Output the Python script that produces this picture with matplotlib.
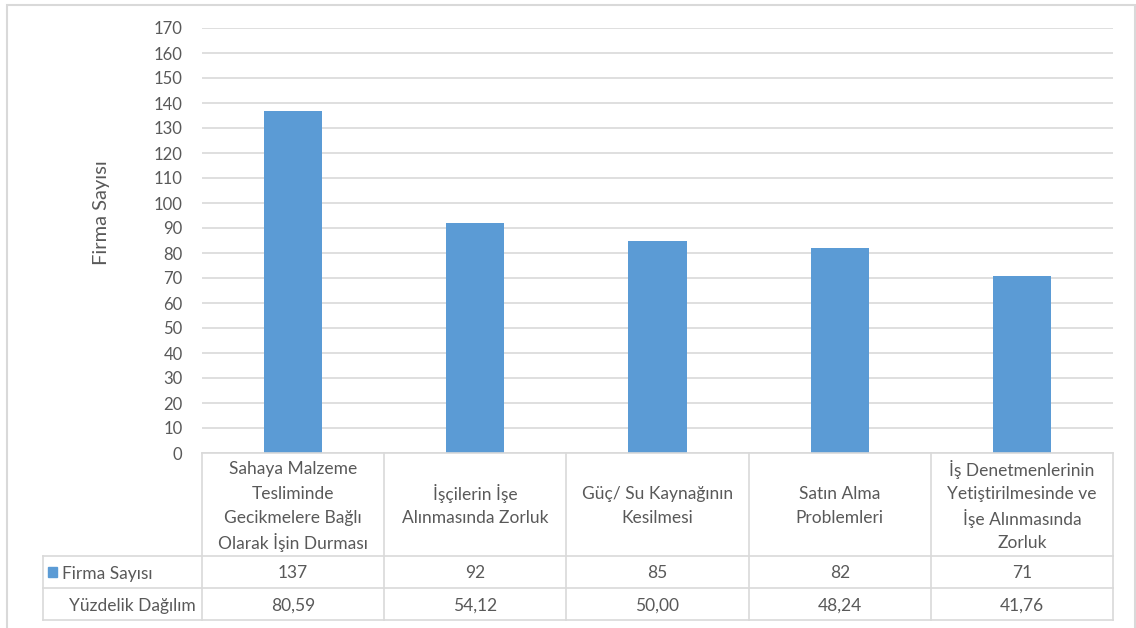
import matplotlib
matplotlib.use("Agg")
import matplotlib.pyplot as plt
from matplotlib.lines import Line2D
from matplotlib.patches import Rectangle
import matplotlib.transforms as mtransforms

categories = [
    "Sahaya Malzeme\nTesliminde\nGecikmelere Bağlı\nOlarak İşin Durması",
    "İşçilerin İşe\nAlınmasında Zorluk",
    "Güç/ Su Kaynağının\nKesilmesi",
    "Satın Alma\nProblemleri",
    "İş Denetmenlerinin\nYetiştirilmesinde ve\nİşe Alınmasında\nZorluk",
]
firma_sayisi = [137, 92, 85, 82, 71]
yuzdelik = ["80,59", "54,12", "50,00", "48,24", "41,76"]
yticks = list(range(0, 171, 10))

BAR = "#5B9BD5"
GRID = "#D9D9D9"
TXT = "#595959"
FONT = ["Lato", "DejaVu Sans"]
FS = 12.5

W, H = 1136, 628
fig = plt.figure(figsize=(W / 100, H / 100), dpi=100)
plt.rcParams["font.family"] = FONT


def fx(px):
    return px / W


def fy(py):
    return 1 - py / H


# chart area border
fig.add_artist(Rectangle((fx(7), fy(640)), fx(1135) - fx(7), fy(5) - fy(640),
                         transform=fig.transFigure, fill=False,
                         edgecolor=GRID, linewidth=1.5))

ax = fig.add_axes([fx(202), fy(453), fx(1113) - fx(202), fy(28) - fy(453)])
n = len(categories)
x = list(range(n))
ax.bar(x, firma_sayisi, width=0.32, color=BAR, zorder=3)
ax.set_xlim(-0.5, n - 0.5)
ax.set_ylim(0, 170)
ax.set_yticks(yticks)
ax.set_yticklabels([str(t) for t in yticks], color=TXT, fontsize=12)
ax.tick_params(axis="y", length=0, pad=14)
ax.set_xticks([])
ax.grid(axis="y", color=GRID, linewidth=1.2, zorder=0)
for s in ax.spines.values():
    s.set_visible(False)

fig.text(fx(101), fy(213), "Firma Sayısı", rotation=90, ha="center",
         va="center", color=TXT, fontsize=14.5)

# data table below the axis
trans = mtransforms.blended_transform_factory(ax.transData, fig.transFigure)
y_top, y_r1, y_r2, y_bot = fy(453), fy(556), fy(588), fy(620)
x_left = fx(43)
x_first = fx(202)
x_right = fx(1113)
lw = 1.2
# horizontal rules
fig.add_artist(Line2D([x_first, x_right], [y_top, y_top], color=GRID, lw=lw,
                      transform=fig.transFigure))
for yy in (y_r1, y_r2, y_bot):
    fig.add_artist(Line2D([x_left, x_right], [yy, yy], color=GRID, lw=lw,
                          transform=fig.transFigure))
# vertical rules at category boundaries
for b in [i - 0.5 for i in range(n + 1)]:
    ax.add_line(Line2D([b, b], [y_top, y_bot], color=GRID, lw=lw,
                       transform=trans, clip_on=False))
fig.add_artist(Line2D([x_left, x_left], [y_r1, y_bot], color=GRID, lw=lw,
                      transform=fig.transFigure))

line_step = 24.5 / H
cat_mid = (y_top + y_r1) / 2
for i, (c, v, p) in enumerate(zip(categories, firma_sayisi, yuzdelik)):
    lines = c.split("\n")
    k = len(lines)
    for j, ln in enumerate(lines):
        yy = cat_mid + ((k - 1) / 2 - j) * line_step
        ax.text(i, yy, ln, transform=trans, ha="center",
                va="center_baseline", color=TXT, fontsize=FS)
    ax.text(i, (y_r1 + y_r2) / 2, str(v), transform=trans, ha="center",
            va="center_baseline", color=TXT, fontsize=FS)
    ax.text(i, (y_r2 + y_bot) / 2, p, transform=trans, ha="center",
            va="center_baseline", color=TXT, fontsize=FS)

# row headers
fig.add_artist(Rectangle((fx(48), fy(577)), fx(57) - fx(48), fy(567) - fy(577),
                         transform=fig.transFigure, color=BAR))
fig.text(fx(62), (y_r1 + y_r2) / 2, "Firma Sayısı", ha="left",
         va="center_baseline", color=TXT, fontsize=FS)
fig.text(fx(196), (y_r2 + y_bot) / 2, "Yüzdelik Dağılım", ha="right",
         va="center_baseline", color=TXT, fontsize=FS)

fig.savefig("out.png", dpi=100)
